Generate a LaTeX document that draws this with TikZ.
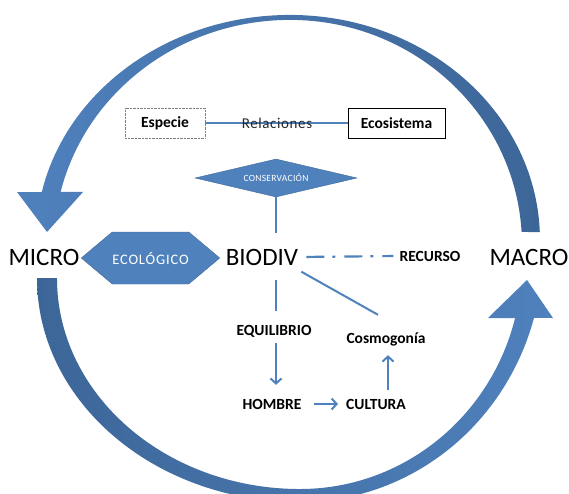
\documentclass[tikz,border=0pt]{standalone}
\usepackage{fontspec}
\setmainfont{Carlito}
\usetikzlibrary{shapes.geometric,shapes.symbols,arrows.meta}
\definecolor{ofblue}{RGB}{79,129,189}
\definecolor{ofdark}{RGB}{61,102,152}

\begin{document}
\begin{tikzpicture}[
        x=1pt, y=-1pt,
        big/.style={font=\fontsize{25}{30}\selectfont, text height=17pt, text depth=0pt, inner sep=2pt},
        lbl/.style={font=\fontsize{15.5}{18}\selectfont\bfseries, text height=10pt, text depth=0pt, inner sep=2pt},
        concept/.style={font=\fontsize{15.5}{18}\selectfont\bfseries, minimum height=30pt, inner sep=0pt},
        link/.style={draw=ofblue, line width=1.2pt},
        flow/.style={draw=ofblue, line width=2pt, -{Straight Barb[length=5pt,width=11pt]}},
        bluebox/.style={fill=ofblue, draw=ofblue!80!black, line width=0.4pt, text=white, inner sep=0pt},
    ]
    \useasboundingbox (0,0) rectangle (569,494);

    % big curved arrows
    \shade[left color=ofblue, right color=ofdark]
        (539.8,232.1) arc[start angle=-2, end angle=-90, x radius=250, y radius=225]
        arc[start angle=-90, end angle=-167.7, x radius=254, y radius=225]
        -- (17,192) -- (47,232) -- (83,192) -- (60.6,192)
        arc[start angle=-166.4, end angle=-90, x radius=236, y radius=225]
        arc[start angle=-90, end angle=-3.3, x radius=232, y radius=225]
        -- cycle;
    \shade[left color=ofdark, right color=ofblue]
        (37,278) arc[start angle=180, end angle=90, x radius=263, y radius=224]
        arc[start angle=90, end angle=15.65, x radius=243, y radius=252]
        -- (553,318) -- (527,280) -- (488,318) -- (515.1,318)
        arc[start angle=14.28, end angle=90, x radius=222, y radius=227]
        arc[start angle=90, end angle=180, x radius=243, y radius=211]
        -- cycle;

    \node[big] (micro) at (44,257) {MICRO};
    \node[big] (macro) at (529,257) {MACRO};
    \node[big] (biodiv) at (262,257) {BIODIV};

    \node[concept, draw=gray, densely dotted, minimum width=80pt] (especie) at (165,123) {Especie};
    \node[concept, draw=black, line width=0.9pt, minimum width=97pt] (ecosistema) at (396.5,123) {Ecosistema};
    \draw[link] (especie) -- (ecosistema);
    \node[font=\fontsize{15}{18}\selectfont\addfontfeatures{LetterSpace=4}, text=black!85, inner sep=0pt] (relaciones) at (277,123) {Relaciones};

    \node[bluebox, diamond, aspect=4.3, minimum width=162pt, minimum height=38pt,
          font=\fontsize{9.5}{11}\selectfont\addfontfeatures{LetterSpace=3}] (conserv) at (276,178) {CONSERVACIÓN};
    \node[bluebox, signal, signal to=west and east, signal pointer angle=80, minimum width=135pt, minimum height=52pt,
          font=\fontsize{14.5}{17}\selectfont\addfontfeatures{LetterSpace=6}] (ecologico) at (150.5,258) {ECOLÓGICO};

    \node[lbl] (recurso) at (430,256) {RECURSO};
    \node[lbl] (equil) at (274,330) {EQUILIBRIO};
    \node[lbl] (cosmo) at (386,338) {Cosmogonía};
    \node[lbl] (hombre) at (272,404) {HOMBRE};
    \node[lbl] (cultura) at (376,404) {CULTURA};

    \draw[link, shorten >=13pt] (conserv.south) -- (conserv.south |- biodiv.north);
    \draw[link, shorten <=12pt, shorten >=12pt] (equil.north -| conserv.south) -- (biodiv.south -| conserv.south);
    \draw[link, line width=2.2pt, shorten <=6pt, shorten >=4pt, dash pattern=on 18pt off 8pt on 3pt off 9pt] (biodiv.east) -- (recurso.west);
    \draw[link, line width=2pt] ([xshift=1pt,yshift=-4pt]biodiv.south east) -- ([xshift=-8pt,yshift=16pt]cosmo.north);

    \draw[flow, shorten <=6pt, shorten >=12pt] (equil.south -| conserv.south) -- (hombre.north -| conserv.south);
    \draw[flow, shorten <=10pt, shorten >=6pt] (hombre.east) -- (cultura.west);
    \draw[flow, shorten <=7pt, shorten >=10pt] (cultura.north -| 388,0) -- (cosmo.south -| 388,0);
\end{tikzpicture}
\end{document}
